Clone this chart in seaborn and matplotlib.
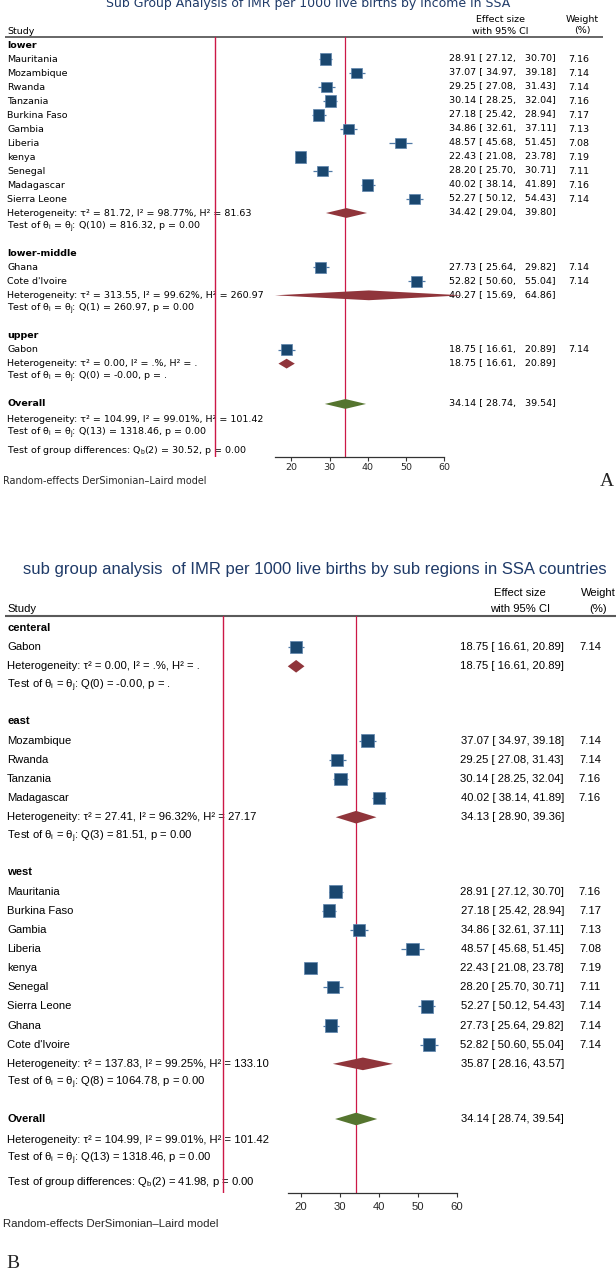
import matplotlib
matplotlib.use("Agg")
import matplotlib.pyplot as plt
import seaborn as sns

# ---------------- panel A : by income ----------------
a_title = "Sub Group Analysis of IMR per 1000 live births by income in SSA"
a_groups = ["lower", "lower-middle", "upper"]
a_studies = [
    ["Mauritania", "Mozambique", "Rwanda", "Tanzania", "Burkina Faso", "Gambia",
     "Liberia", "kenya", "Senegal", "Madagascar", "Sierra Leone"],
    ["Ghana", "Cote d'Ivoire"],
    ["Gabon"],
]
a_es = [[28.91, 37.07, 29.25, 30.14, 27.18, 34.86, 48.57, 22.43, 28.20, 40.02, 52.27],
        [27.73, 52.82], [18.75]]
a_lo = [[27.12, 34.97, 27.08, 28.25, 25.42, 32.61, 45.68, 21.08, 25.70, 38.14, 50.12],
        [25.64, 50.60], [16.61]]
a_hi = [[30.70, 39.18, 31.43, 32.04, 28.94, 37.11, 51.45, 23.78, 30.71, 41.89, 54.43],
        [29.82, 55.04], [20.89]]
a_wt = [[7.16, 7.14, 7.14, 7.16, 7.17, 7.13, 7.08, 7.19, 7.11, 7.16, 7.14],
        [7.14, 7.14], [7.14]]
a_sum_es = [34.42, 40.27, 18.75]
a_sum_lo = [29.04, 15.69, 16.61]
a_sum_hi = [39.80, 64.86, 20.89]
a_tau2 = ["81.72", "313.55", "0.00"]
a_i2 = ["98.77", "99.62", "."]
a_h2 = ["81.63", "260.97", "."]
a_qdf = [10, 1, 0]
a_q = ["816.32", "260.97", "-0.00"]
a_p = ["0.00", "0.00", "."]
a_overall = [34.14, 28.74, 39.54]
a_overall_het = ["104.99", "99.01", "101.42"]
a_overall_q = [13, "1318.46", "0.00"]
a_qb = [2, "30.52", "0.00"]

# ---------------- panel B : by sub region ----------------
b_title = "sub group analysis  of IMR per 1000 live births by sub regions in SSA countries"
b_groups = ["centeral", "east", "west"]
b_studies = [
    ["Gabon"],
    ["Mozambique", "Rwanda", "Tanzania", "Madagascar"],
    ["Mauritania", "Burkina Faso", "Gambia", "Liberia", "kenya", "Senegal",
     "Sierra Leone", "Ghana", "Cote d'Ivoire"],
]
b_es = [[18.75], [37.07, 29.25, 30.14, 40.02],
        [28.91, 27.18, 34.86, 48.57, 22.43, 28.20, 52.27, 27.73, 52.82]]
b_lo = [[16.61], [34.97, 27.08, 28.25, 38.14],
        [27.12, 25.42, 32.61, 45.68, 21.08, 25.70, 50.12, 25.64, 50.60]]
b_hi = [[20.89], [39.18, 31.43, 32.04, 41.89],
        [30.70, 28.94, 37.11, 51.45, 23.78, 30.71, 54.43, 29.82, 55.04]]
b_wt = [[7.14], [7.14, 7.14, 7.16, 7.16],
        [7.16, 7.17, 7.13, 7.08, 7.19, 7.11, 7.14, 7.14, 7.14]]
b_sum_es = [18.75, 34.13, 35.87]
b_sum_lo = [16.61, 28.90, 28.16]
b_sum_hi = [20.89, 39.36, 43.57]
b_tau2 = ["0.00", "27.41", "137.83"]
b_i2 = [".", "96.32", "99.25"]
b_h2 = [".", "27.17", "133.10"]
b_qdf = [0, 3, 8]
b_q = ["-0.00", "81.51", "1064.78"]
b_p = [".", "0.00", "0.00"]
b_overall = [34.14, 28.74, 39.54]
b_overall_het = ["104.99", "99.01", "101.42"]
b_overall_q = [13, "1318.46", "0.00"]
b_qb = [2, "41.98", "0.00"]

ticks = [20, 30, 40, 50, 60]
null_value = 0

NAVY = "#1a476f"
CI_COL = "#4f79a6"
MAROON = "#90353b"
GREEN = "#55752f"
RED = "#cc1847"
TITLE_COL = "#1f3a68"

sns.set_theme(style="white")
plt.rcParams["mathtext.fontset"] = "custom"
plt.rcParams["mathtext.rm"] = "Liberation Sans"

W, H = 616, 1270
fig = plt.figure(figsize=(W / 100, H / 100), dpi=100)
axT = fig.add_axes([0, 0, 1, 1])
axT.set_xlim(0, W)
axT.set_ylim(H, 0)
axT.axis("off")
axT.patch.set_alpha(0)


def het_text(t, i, h):
    return "Heterogeneity: τ² = " + t + ", I² = " + i + "%, H² = " + h


def q_text(df, q, p):
    return (r"Test of θ$_{\mathrm{i}}$ = θ$_{\mathrm{j}}$: Q(" + str(df) + ") = "
            + q + ", p = " + p)


def draw_panel(title, groups, studies, es, lo, hi, wt, s_es, s_lo, s_hi,
               tau2, i2, h2, qdf, q, p, overall, ov_het, ov_q, qb, cfg):
    fam = cfg["font"]
    fs = cfg["fs"]
    step = cfg["step"]
    y0 = cfg["start"]
    kw = dict(fontsize=fs, family=fam, color="black", va="center")

    # row layout
    y = y0
    sq_x, sq_y, sq_w, ci = [], [], [], []
    dia = []
    for g in range(len(groups)):
        axT.text(cfg["x_lab"], y, groups[g], fontweight="bold", **kw)
        y += step
        for k in range(len(studies[g])):
            axT.text(cfg["x_lab"], y, studies[g][k], **kw)
            axT.text(cfg["x_es"], y, cfg["fmt"].format(es[g][k], lo[g][k], hi[g][k]),
                     ha="right", **kw)
            axT.text(cfg["x_wt"], y, "%.2f" % wt[g][k], ha="right", **kw)
            sq_x.append(es[g][k]); sq_y.append(y); sq_w.append(wt[g][k])
            ci.append((y, lo[g][k], hi[g][k]))
            y += step
        axT.text(cfg["x_lab"], y, het_text(tau2[g], i2[g], h2[g]), **kw)
        axT.text(cfg["x_es"], y, cfg["fmt"].format(s_es[g], s_lo[g], s_hi[g]),
                 ha="right", **kw)
        dia.append((y, s_es[g], s_lo[g], s_hi[g], MAROON))
        y += step
        axT.text(cfg["x_lab"], y, q_text(qdf[g], q[g], p[g]), **kw)
        y += 1.88 * step
    axT.text(cfg["x_lab"], y, "Overall", fontweight="bold", **kw)
    axT.text(cfg["x_es"], y, cfg["fmt"].format(*overall), ha="right", **kw)
    dia.append((y, overall[0], overall[1], overall[2], GREEN))
    y += 1.08 * step
    axT.text(cfg["x_lab"], y, het_text(*ov_het), **kw)
    y += step
    axT.text(cfg["x_lab"], y, q_text(*ov_q), **kw)
    y += 1.22 * step
    axT.text(cfg["x_lab"], y, r"Test of group differences: Q$_{\mathrm{b}}$(" + str(qb[0])
             + ") = " + qb[1] + ", p = " + qb[2], **kw)
    y_axis = y + cfg["axis_gap"] * step

    # header
    top_line = y0 - cfg["line_gap"] * step
    axT.hlines(top_line, cfg["line_x"][0], cfg["line_x"][1], color="#5a5a5a", lw=cfg["line_lw"])
    axT.text(cfg["x_lab"], y0 - 1.0 * step, "Study", **kw)
    axT.text(cfg["x_hdr_es"], y0 - 1.85 * step, "Effect size", ha="center", **kw)
    axT.text(cfg["x_hdr_es"], y0 - 1.0 * step, "with 95% CI", ha="center", **kw)
    axT.text(cfg["x_hdr_wt"], y0 - 1.85 * step, "Weight", ha="center", **kw)
    axT.text(cfg["x_hdr_wt"], y0 - 1.0 * step, "(%)", ha="center", **kw)
    axT.text(cfg["x_title"], y0 - cfg["title_gap"] * step, title, ha="center",
             va="center", fontsize=cfg["title_fs"], family=fam, color=TITLE_COL)
    axT.text(3, y_axis + cfg["foot_gap"] * step, "Random-effects DerSimonian\u2013Laird model",
             fontsize=cfg["foot_fs"], family=fam, va="center")
    axT.text(cfg["letter_xy"][0], cfg["letter_xy"][1], cfg["letter"], fontsize=14,
             family="Liberation Serif", va="center", ha=cfg["letter_ha"])

    # forest axes
    a, b = cfg["map"]
    ax = fig.add_axes([0, 1 - y_axis / H, 1, (y_axis - top_line) / H])
    ax.patch.set_alpha(0)
    ax.set_xlim((0 - a) / b, (W - a) / b)
    ax.set_ylim(y_axis, top_line)
    for side in ["left", "right", "top"]:
        ax.spines[side].set_visible(False)
    ax.spines["bottom"].set_color("#333333")
    ax.spines["bottom"].set_linewidth(0.9)
    all_lo = [v for grp in lo for v in grp] + list(s_lo)
    ax.spines["bottom"].set_bounds(min(all_lo), max(ticks))
    ax.set_xticks(ticks)
    ax.set_yticks([])
    ax.tick_params(axis="x", direction="out", length=3, width=0.8, color="#333333",
                   pad=cfg["tick_pad"], labelsize=fs, bottom=True)
    for lab in ax.get_xticklabels():
        lab.set_family(fam)

    ax.axvline(null_value, color=RED, lw=1.0, zorder=1)
    ax.axvline(overall[0], color=RED, lw=0.9, zorder=1)

    for (yy, l, h) in ci:
        ax.hlines(yy, l, h, color=CI_COL, lw=0.9, zorder=2)
    mean_w = sum(sq_w) / len(sq_w)
    side_pt = cfg["sq_px"] * 0.72
    sizes = [side_pt ** 2 * w / mean_w for w in sq_w]
    sns.scatterplot(x=sq_x, y=sq_y, marker="s", s=sizes, color=NAVY,
                    edgecolor="#5d84ad", linewidth=0.5, ax=ax, zorder=3, legend=False)
    hh = cfg["dia_h"] * step / 2
    for (yy, e, l, h, col) in dia:
        ax.fill([l, e, h, e], [yy, yy - hh, yy, yy + hh], color=col, lw=0, zorder=3)
    ax.set_xlabel("")
    ax.set_ylabel("")


cfg_a = dict(font="DejaVu Sans", fs=6.8, step=14.0, start=45.0, map=(215.0, 3.82),
             x_lab=7, x_es=556, x_wt=589, x_hdr_es=500, x_hdr_wt=582,
             fmt="{:.2f} [ {:.2f},   {:.2f}]", line_x=(5, 603), line_lw=1.3,
             line_gap=0.57, title_gap=2.93, x_title=308, title_fs=9.0,
             axis_gap=0.5, foot_gap=1.71, foot_fs=6.9, tick_pad=1.5,
             letter="A", letter_xy=(614, 481), letter_ha="right",
             sq_px=11.0, dia_h=0.7)
cfg_b = dict(font="Liberation Sans", fs=8.1, step=19.15, start=628.0, map=(223.0, 3.9),
             x_lab=7, x_es=564, x_wt=601, x_hdr_es=520, x_hdr_wt=598,
             fmt="{:.2f} [ {:.2f}, {:.2f}]", line_x=(5, 616), line_lw=1.5,
             line_gap=0.63, title_gap=3.03, x_title=315, title_fs=12.0,
             axis_gap=0.55, foot_gap=1.62, foot_fs=8.2, tick_pad=3.5,
             letter="B", letter_xy=(6, 1263), letter_ha="left",
             sq_px=12.5, dia_h=0.66)

draw_panel(a_title, a_groups, a_studies, a_es, a_lo, a_hi, a_wt, a_sum_es, a_sum_lo,
           a_sum_hi, a_tau2, a_i2, a_h2, a_qdf, a_q, a_p, a_overall, a_overall_het,
           a_overall_q, a_qb, cfg_a)
draw_panel(b_title, b_groups, b_studies, b_es, b_lo, b_hi, b_wt, b_sum_es, b_sum_lo,
           b_sum_hi, b_tau2, b_i2, b_h2, b_qdf, b_q, b_p, b_overall, b_overall_het,
           b_overall_q, b_qb, cfg_b)

fig.savefig("out.png", dpi=100, facecolor="white")
